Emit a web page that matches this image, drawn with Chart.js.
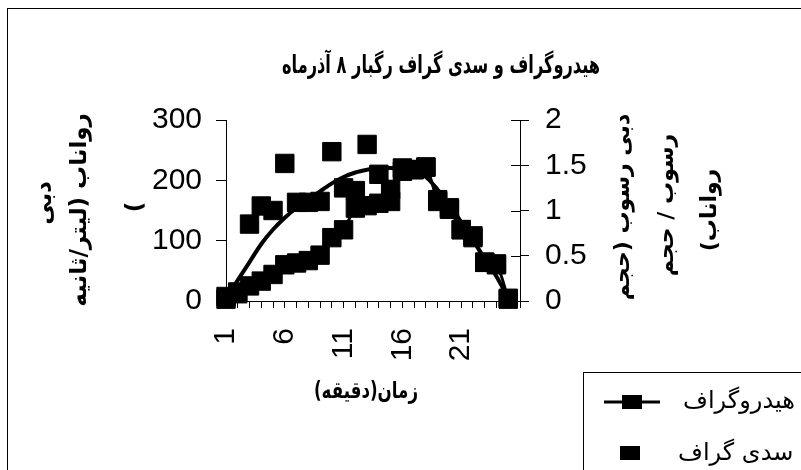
<!DOCTYPE html>
<html>
<head>
<meta charset="utf-8">
<script src="https://cdn.jsdelivr.net/npm/chart.js@4/dist/chart.umd.min.js"></script>
<style>
  html, body { margin: 0; padding: 0; background: #fff; }
  #wrap { width: 801px; height: 470px; }
</style>
</head>
<body>
<div id="wrap"><canvas id="chart" width="801" height="470"></canvas></div>
<script>
// زمان (دقیقه)
const categories = ["1", "2", "3", "4", "5", "6", "7", "8", "9", "10", "11", "12", "13",
  "14", "15", "16", "17", "18", "19", "20", "21", "22", "23", "24", "25", "26"];
const xTickLabels = ["1", "6", "11", "16", "21"];

// دبی رواناب (لیتر/ثانیه) - محور چپ
const hydrograph = [3, 15, 25, 33, 44, 60, 63, 67, 76, 105, 118, 154, 158, 162,
  185, 215, 218, 222, 168, 152, 118, 105, 64, 60, 3];

// دبی رسوب - محور راست
const sedigraph = [0.05, 0.08, 0.85, 1.05, 1.0, 1.52, 1.09, 1.09, 1.1, 1.65, 1.25, 1.22,
  1.73, 1.4, 1.1, 1.47, 1.45, 1.48, 1.1, 1.03, 0.79, 0.72, 0.43, 0.41, 0.03];

// خط روند سدی گراف (خوانده شده از تصویر)
const sedigraphTrend = [0.03, 0.23, 0.43, 0.63, 0.79, 0.92, 1.03, 1.12, 1.21, 1.3, 1.37,
  1.42, 1.45, 1.47, 1.47, 1.45, 1.43, 1.37, 1.23, 1.07, 0.87, 0.67, 0.47, 0.27, 0.03];

const chartTitle = "هیدروگراف و سدی گراف رگبار ۸ آذرماه";
const xTitle = "زمان(دقیقه)";
const yTitleLines = ["دبی", "رواناب (لیتر/ثانیه", ")"];
const y1TitleLines = ["دبی رسوب (حجم", "رسوب / حجم", "رواناب)"];
const seriesNames = ["هیدروگراف", "سدی گراف"];

const numFont = { family: "'Liberation Sans', Arial, sans-serif", size: 30 };
const faFont = "'DejaVu Sans', sans-serif";

function textoVertical(ctx, txt, x, y) {
  ctx.save();
  ctx.translate(x, y);
  ctx.rotate(-Math.PI / 2);
  ctx.fillText(txt, 0, 0);
  ctx.restore();
}

// texto comprimido na horizontal até a largura dada
function textoAjustado(ctx, txt, x, y, largura) {
  const w = ctx.measureText(txt).width;
  ctx.save();
  ctx.translate(x, y);
  ctx.scale(Math.min(1, largura / w), 1);
  ctx.fillText(txt, 0, 0);
  ctx.restore();
}

const decoracao = {
  id: "decoracao",
  afterDraw(chart) {
    const ctx = chart.ctx;
    const a = chart.chartArea;
    ctx.save();
    ctx.fillStyle = "#000";
    ctx.strokeStyle = "#000";
    ctx.lineWidth = 1;

    // frame
    ctx.strokeRect(7.5, 8.5, 900, 600);

    ctx.direction = "rtl";
    ctx.textAlign = "center";
    ctx.textBaseline = "middle";

    // title
    ctx.font = "bold 25px " + faFont;
    textoAjustado(ctx, chartTitle, 441, 66, 318);

    // x title
    ctx.font = "bold 23px " + faFont;
    textoAjustado(ctx, xTitle, 366, 392, 104);

    // left axis title
    ctx.font = "bold 23px " + faFont;
    textoVertical(ctx, yTitleLines[0], 45, 203);
    textoVertical(ctx, yTitleLines[1], 80, 210);
    textoVertical(ctx, yTitleLines[2], 136, 207);

    // right axis title
    ctx.font = "bold 22px " + faFont;
    textoVertical(ctx, y1TitleLines[0], 623, 207);
    textoVertical(ctx, y1TitleLines[1], 667, 205);
    textoVertical(ctx, y1TitleLines[2], 710, 210);

    // right axis: ticks cross the axis line
    const y1 = chart.scales.y1;
    ctx.beginPath();
    y1.ticks.forEach(t => {
      const py = Math.round(y1.getPixelForValue(t.value)) + 0.5;
      ctx.moveTo(a.right - 9, py);
      ctx.lineTo(a.right, py);
    });
    ctx.stroke();

    // legend
    ctx.strokeRect(583.5, 372.5, 300, 200);
    ctx.lineWidth = 3;
    ctx.beginPath();
    ctx.moveTo(604, 402);
    ctx.lineTo(660, 402);
    ctx.stroke();
    ctx.fillRect(622, 395, 20, 14);
    ctx.fillRect(620, 446, 20, 14);
    ctx.font = "24px " + faFont;
    ctx.textAlign = "left";
    ctx.fillText(seriesNames[0], 683, 402);
    ctx.fillText(seriesNames[1], 678, 454);
    ctx.restore();
  }
};

const ctx = document.getElementById("chart").getContext("2d");
new Chart(ctx, {
  type: "line",
  data: {
    labels: categories,
    datasets: [
      {
        label: seriesNames[0],
        data: hydrograph,
        yAxisID: "y",
        borderColor: "#000",
        backgroundColor: "#000",
        borderWidth: 3,
        pointStyle: "rect",
        pointRadius: 13,
        pointBorderWidth: 1,
        tension: 0.3,
        clip: false
      },
      {
        label: seriesNames[1],
        data: sedigraph,
        yAxisID: "y1",
        showLine: false,
        borderColor: "#000",
        backgroundColor: "#000",
        pointStyle: "rect",
        pointRadius: 13,
        pointBorderWidth: 1,
        clip: false
      },
      {
        label: "روند",
        data: sedigraphTrend,
        yAxisID: "y1",
        borderColor: "#000",
        borderWidth: 4,
        pointRadius: 0,
        cubicInterpolationMode: "monotone",
        clip: false
      }
    ]
  },
  options: {
    responsive: false,
    animation: false,
    devicePixelRatio: 1,
    layout: { padding: { left: 136, right: 201, top: 120, bottom: 105 } },
    plugins: {
      legend: { display: false },
      title: { display: false },
      tooltip: { enabled: false }
    },
    scales: {
      x: {
        type: "category",
        offset: false,
        grid: { drawOnChartArea: false, tickLength: 7, color: "#000" },
        border: { color: "#000", width: 1 },
        ticks: {
          autoSkip: false,
          minRotation: 90,
          maxRotation: 90,
          padding: 20,
          color: "#000",
          font: numFont,
          callback: (v, i) => xTickLabels.includes(categories[i]) ? categories[i] : ""
        },
        afterFit: s => { s.height = 64; }
      },
      y: {
        position: "left",
        min: 0,
        max: 300,
        grid: { drawOnChartArea: false, tickLength: 10, color: "#000" },
        border: { color: "#000", width: 1 },
        ticks: { stepSize: 100, padding: 14, color: "#000", font: numFont },
        afterFit: s => { s.width = 90; }
      },
      y1: {
        position: "right",
        min: 0,
        max: 2,
        grid: { drawOnChartArea: false, tickLength: 9, color: "#000" },
        border: { color: "#000", width: 1 },
        ticks: { stepSize: 0.5, padding: 16, color: "#000", font: numFont, callback: v => String(v) },
        afterFit: s => { s.width = 80; }
      }
    }
  },
  plugins: [decoracao]
});
</script>
</body>
</html>
